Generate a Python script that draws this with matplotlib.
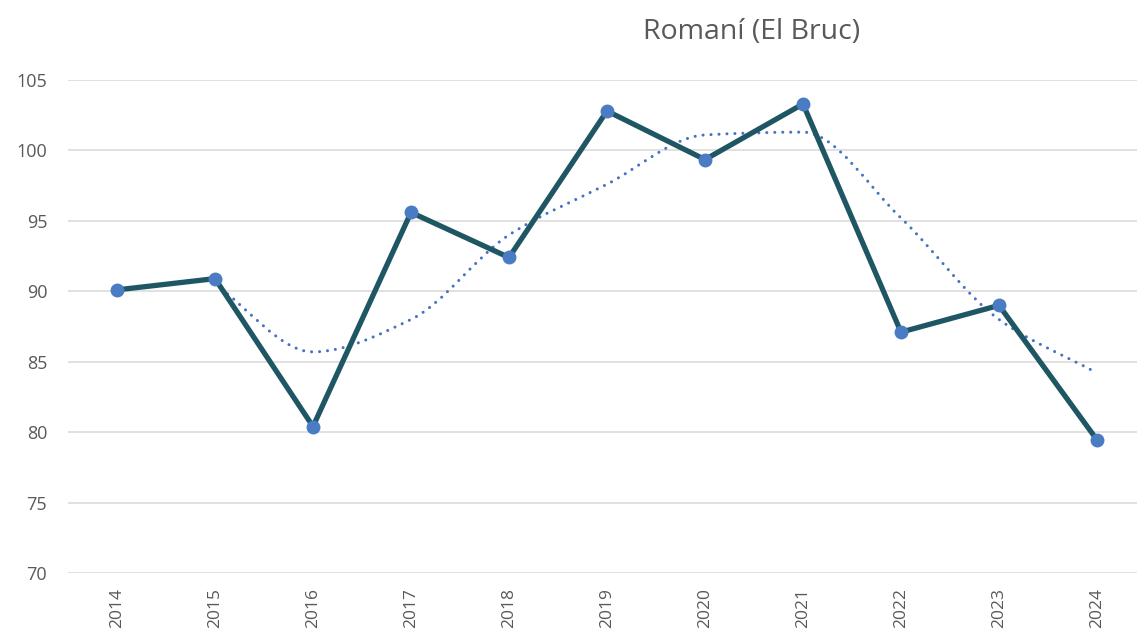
import matplotlib
matplotlib.use("Agg")
import matplotlib.pyplot as plt
from matplotlib.path import Path
from matplotlib.patches import PathPatch

years = ["2014", "2015", "2016", "2017", "2018", "2019", "2020", "2021", "2022", "2023", "2024"]
values = [90.1, 90.9, 80.4, 95.6, 92.4, 102.8, 99.35, 103.3, 87.1, 89.0, 79.45]
# 2-period moving average trendline, starts at 2015
trend = [90.5, 85.7, 88.0, 94.0, 97.6, 101.1, 101.3, 95.2, 88.0, 84.2]
yticks = [70, 75, 80, 85, 90, 95, 100, 105]

plt.rcParams['font.family'] = ['Open Sans', 'DejaVu Sans']
fig = plt.figure(figsize=(11.37, 6.33), dpi=100)
ax = fig.add_axes([68/1137, 60/633, (1146-68)/1137, (573-80)/633])

x = list(range(len(years)))
tx = x[1:]

# smoothed dotted trendline: monotone cubic Bezier through the read points
n = len(tx)
slopes = [trend[i + 1] - trend[i] for i in range(n - 1)]
tang = [0.0] * n
tang[0] = slopes[0]
tang[-1] = slopes[-1]
for i in range(1, n - 1):
    a, b = slopes[i - 1], slopes[i]
    if a * b <= 0:
        tang[i] = 0.0
    else:
        tang[i] = 2 * a * b / (a + b)
verts = [(tx[0], trend[0])]
codes = [Path.MOVETO]
for i in range(n - 1):
    c1 = (tx[i] + 1 / 3, trend[i] + tang[i] / 3)
    c2 = (tx[i + 1] - 1 / 3, trend[i + 1] - tang[i + 1] / 3)
    verts += [c1, c2, (tx[i + 1], trend[i + 1])]
    codes += [Path.CURVE4] * 3
patch = PathPatch(Path(verts, codes), fill=False, edgecolor='#4472c4',
                  linewidth=2.2, linestyle=(0, (0.01, 2.6)), zorder=2)
patch.set_capstyle('round')
ax.add_patch(patch)

ax.plot(x, values, color='#1f5663', linewidth=3.8, zorder=3,
        marker='o', markersize=9, markerfacecolor='#4a7cc4',
        markeredgecolor='#4a7cc4', solid_joinstyle='miter')

ax.set_xlim(-0.5, len(years) - 0.5)
ax.set_ylim(70, 105)
ax.set_yticks(yticks)
ax.set_xticks(x)
ax.set_xticklabels(years, rotation=90)
ax.grid(axis='y', color='#d9d9d9', linewidth=1.1)
ax.set_axisbelow(True)
for s in ax.spines.values():
    s.set_visible(False)
ax.tick_params(axis='both', length=0, colors='#595959', labelsize=12.5)
ax.tick_params(axis='y', labelsize=13, pad=15)
ax.tick_params(axis='x', pad=11)

fig.text(752/1137, 1 - 32/633, "Romaní (El Bruc)", ha='center', va='center',
         fontsize=20.5, color='#595959')

fig.savefig("out.png", dpi=100)
